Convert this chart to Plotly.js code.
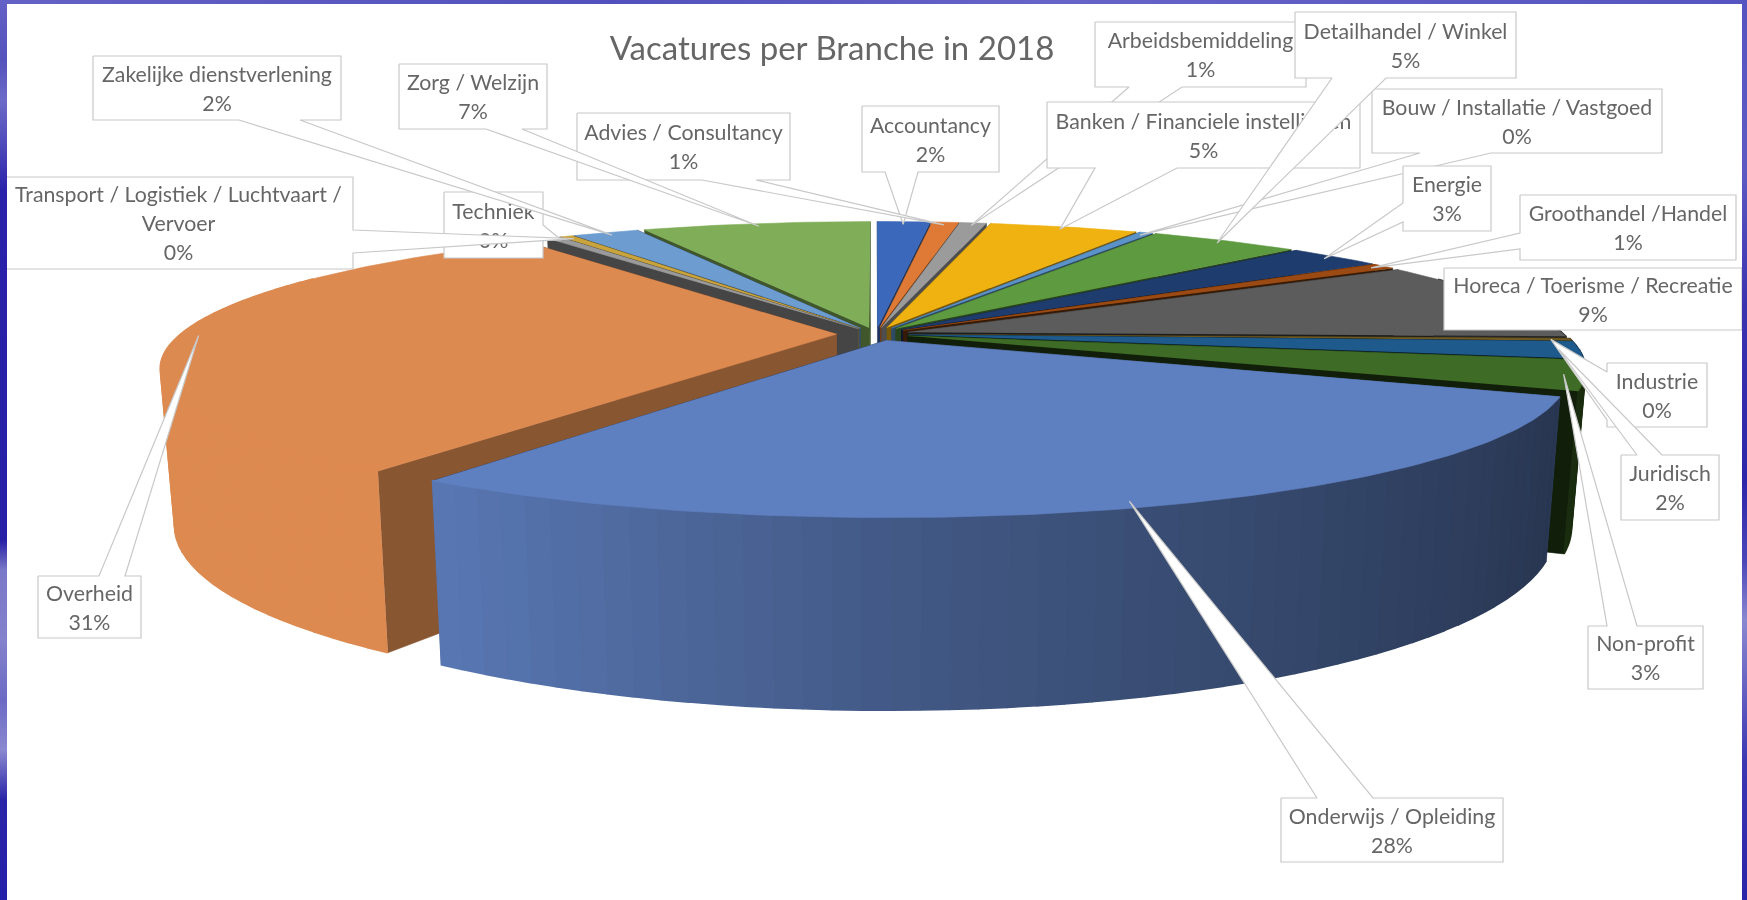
<!DOCTYPE html>
<html>
<head>
<meta charset="utf-8">
<script src="https://cdn.plot.ly/plotly-3.0.1.min.js"></script>
<style>
html,body{margin:0;padding:0;width:1747px;height:900px;overflow:hidden;background:#2a22a8;}
.frame{position:absolute;}
#fl{left:0;top:0;width:7px;height:900px;background:linear-gradient(to bottom,#6462c6 0,#5452bc 60px,#6c6ac8 100px,#4a46b8 150px,#2a22aa 190px,#2620a6 540px,#7a78c8 570px,#8482cc 640px,#6c6ac4 700px,#8a88d0 750px,#2a24a8 800px,#2420a8 900px);}
#fr{right:0;top:0;width:5px;height:900px;background:linear-gradient(to bottom,#5654c0 0,#5c5ac2 170px,#3a34b0 300px,#2c26aa 480px,#4a46b8 560px,#8a88d0 620px,#3c38b2 760px,#2a24a8 900px);}
#ft{left:0;top:0;width:1747px;height:4px;background:linear-gradient(to right,#6462c6,#5250bc 35%,#6664c8 60%,#5654c0 100%);}
#chart{position:absolute;left:0;top:0;width:1747px;height:900px;filter:blur(.4px);}
</style>
</head>
<body>
<div class="frame" id="fl"></div><div class="frame" id="fr"></div><div class="frame" id="ft"></div>
<div id="chart"></div>
<script>
// ---- data ----
const titleText = "Vacatures per Branche in 2018";
const categories = ["Accountancy","Advies / Consultancy","Arbeidsbemiddeling","Banken / Financiele instellingen","Bouw / Installatie / Vastgoed","Detailhandel / Winkel","Energie","Groothandel /Handel","Horeca / Toerisme / Recreatie","Industrie","Juridisch","Non-profit","Onderwijs / Opleiding","Overheid","Techniek","Transport / Logistiek / Luchtvaart / Vervoer","Zakelijke dienstverlening","Zorg / Welzijn"];
const shares = [1.6,0.8,0.8,4.5,0.4,4.5,2.8,0.7,9.4,0.3,2.0,3.4,28.2,31.0,0.4,0.4,2.0,6.9];
const colors = ["#3b68bb","#de7a35","#9b9b9b","#efb210","#5b93c8","#5e9a40","#1f3c6e","#9a4a12","#5c5c5c","#6e5a22","#1e5a8c","#3e6b25","#5f80c0","#dd8a50","#9a9a9a","#c9a33c","#6c9cd0","#80ae58"];
const cutShade = [.5,.5,.5,.5,.5,.45,.4,.35,.3,.3,.3,.28,.55,.62,.45,.5,.5,.5];
const wallBoost = [1,1,1,1,1,1,1,1,1,1,1,1,1,1.08,1,1,1,1];
const explode = [.05,.05,.05,.05,.05,.05,.05,.05,.05,.05,.05,.05,.05,.06,.05,.05,.05,.05];

// ---- label boxes [x0,y0,x1,y1, side the pointer leaves from, pointer base a, b] ----
const calloutBoxes = [
 [862,106,999,172,"b",885,918],
 [577,113,790,180,"b",702,756],
 [1095,22,1306,87,"b",1129,1182],
 [1047,102,1360,168,"b",1095,1177],
 [1372,89,1662,153,"b",1420,1491],
 [1295,12,1516,78,"b",1332,1386],
 [1403,166,1491,231,"l",203,222],
 [1520,195,1736,260,"l",233,249],
 [1444,268,1742,330,"",0,0],
 [1607,363,1707,427,"l",372,420],
 [1621,455,1719,520,"t",1637,1662],
 [1588,626,1703,689,"t",1607,1637],
 [1281,798,1503,862,"t",1317,1373],
 [38,576,141,638,"t",99,125],
 [444,192,543,258,"r",225,240],
 [4,177,353,269,"r",230,253],
 [93,56,341,120,"b",239,300],
 [399,64,547,129,"b",486,522]
];
const labelLines = {15:["Transport / Logistiek / Luchtvaart /","Vervoer"]};

// ---- projection ----
const cx=876, cy=334, Rx=656, Ry=133, P=.23, H=149, LINE=29;
function project(X,Y,down){
  const s=1/(1+P*Y), k=down?.98:1;
  return [cx+Rx*X*s*k, cy-Ry*Y*s*k+(down?H*s:0)];
}
function shade(hex,f){
  const n=parseInt(hex.slice(1),16);
  const c=[(n>>16)&255,(n>>8)&255,n&255].map(v=>Math.round(Math.min(255,v*f)));
  return `rgb(${c[0]},${c[1]},${c[2]})`;
}
function poly(pts,fill,line,w){
  return {type:"scatter",mode:"lines",x:pts.map(p=>p[0]),y:pts.map(p=>p[1]),fill:"toself",fillcolor:fill,
    line:{color:line||fill,width:w===undefined?.6:w},hoverinfo:"skip",showlegend:false};
}
const total=shares.reduce((a,b)=>a+b,0);
let run=0;
const slices=shares.map((v,i)=>{
  const a0=run/total*2*Math.PI; run+=v; const a1=run/total*2*Math.PI;
  const mid=(a0+a1)/2, e=explode[i];
  return {i,a0,a1,mid,ex:e*Math.sin(mid),ey:e*Math.cos(mid)};
});
function world(s,th,r){return [r*Math.sin(th)+s.ex, r*Math.cos(th)+s.ey];}

const traces=[];
[...slices].sort((a,b)=>Math.cos(b.mid)-Math.cos(a.mid)).forEach(s=>{
  const col=colors[s.i];
  const tip=[s.ex,s.ey];
  const c0=world(s,s.a0,1), c1=world(s,s.a1,1);
  const cut=shade(col,cutShade[s.i]);
  // two cut faces
  [c1,c0].forEach(c=>{
    traces.push(poly([project(tip[0],tip[1]),project(c[0],c[1]),project(c[0],c[1],true),project(tip[0],tip[1],true)],cut));
  });
  // outer wall in small steps so that the shading runs along it
  const deg=Math.PI/90;
  const n=Math.max(1,Math.ceil((s.a1-s.a0)/deg));
  for(let j=0;j<n;j++){
    const t0=s.a0+(s.a1-s.a0)*j/n, t1=s.a0+(s.a1-s.a0)*(j+1)/n;
    if(Math.cos((t0+t1)/2)>.45) continue;
    const p0=world(s,t0,1), p1=world(s,t1,1), sx=Math.sin((t0+t1)/2);
    const f=Math.min(1,(sx<0?.7-.42*sx:.7-.3*sx)*wallBoost[s.i]);
    traces.push(poly([project(p0[0],p0[1]),project(p1[0],p1[1]),project(p1[0],p1[1],true),project(p0[0],p0[1],true)],shade(col,f),null,1.6));
  }
  // top surface
  const top=[project(tip[0],tip[1])];
  const m=Math.max(2,Math.ceil((s.a1-s.a0)/(Math.PI/180)));
  for(let j=0;j<=m;j++){const p=world(s,s.a0+(s.a1-s.a0)*j/m,1);top.push(project(p[0],p[1]));}
  traces.push(poly(top,col));
});

// ---- label boxes with pointers, drawn after the pie in series order ----
calloutBoxes.forEach((b,i)=>{
  const [x0,y0,x1,y1,side,a,c]=b, s=slices[i];
  const w=world(s,s.mid,.97), t=project(w[0],w[1]);
  const pts=[[x0,y0]];
  if(side==="t") pts.push([a,y0],t,[c,y0]);
  pts.push([x1,y0]);
  if(side==="r") pts.push([x1,a],t,[x1,c]);
  pts.push([x1,y1]);
  if(side==="b") pts.push([c,y1],t,[a,y1]);
  pts.push([x0,y1]);
  if(side==="l") pts.push([x0,c],t,[x0,a]);
  pts.push([x0,y0]);
  traces.push(poly(pts,"#ffffff","#c8c8c8",1.2));
  const lines=(labelLines[i]||[categories[i]]).concat([Math.round(shares[i])+"%"]);
  const yc=(y0+y1)/2+3;
  traces.push({type:"scatter",mode:"text",
    x:lines.map(()=>(x0+x1)/2),
    y:lines.map((_,k)=>yc+(k-(lines.length-1)/2)*LINE),
    text:lines,textposition:"middle center",
    textfont:{family:"Lato, Carlito, sans-serif",size:21.3,color:"#666666"},
    hoverinfo:"skip",showlegend:false,cliponaxis:false});
});

const layout={
  width:1747,height:900,autosize:false,showlegend:false,
  margin:{l:7,r:5,t:4,b:0,pad:0},
  paper_bgcolor:"rgba(0,0,0,0)",plot_bgcolor:"#ffffff",
  title:{text:titleText,x:832/1747,xanchor:"center",y:1-48/900,yanchor:"middle",font:{family:"Lato, Carlito, sans-serif",size:33,color:"#666666"}},
  xaxis:{range:[7,1742],visible:false,fixedrange:true},
  yaxis:{range:[900,4],visible:false,fixedrange:true},
  hovermode:false
};
Plotly.newPlot("chart",traces,layout,{displayModeBar:false,staticPlot:true});
</script>
</body>
</html>
